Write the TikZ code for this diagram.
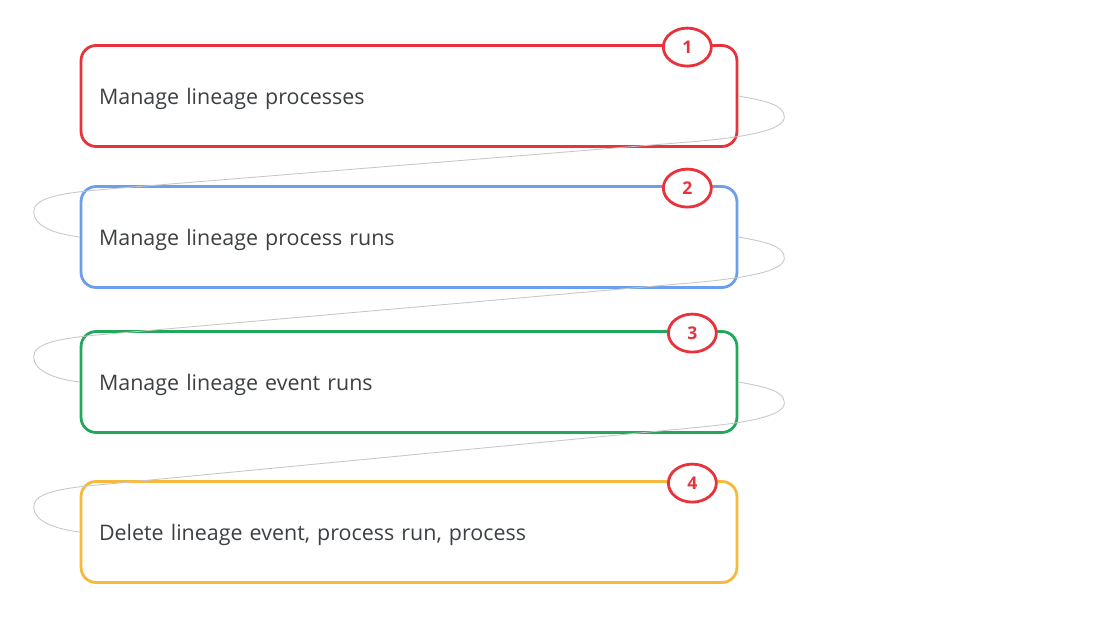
\documentclass[tikz,border=0pt]{standalone}
\usepackage{fontspec}
\setsansfont{Open Sans}
\usetikzlibrary{calc,shapes.geometric}
\definecolor{gred}{HTML}{E8333D}
\definecolor{gblue}{HTML}{6D9EEB}
\definecolor{ggreen}{HTML}{22A85A}
\definecolor{gyellow}{HTML}{F7B93C}
\definecolor{textgray}{HTML}{3C4043}
\tikzstyle{stage} = [draw, line width=1.6pt, rounded corners=0.3cm, fill=white, minimum height=2.02cm, text width=12.4cm, text height=0.44cm, text depth=0.1cm, align=left, inner xsep=0.36cm, font=\sffamily\fontsize{12.2}{14}\selectfont, text=textgray]
\tikzstyle{badge} = [ellipse, draw=gred, line width=1.6pt, fill=white, minimum width=0.96cm, minimum height=0.76cm, inner sep=0pt, text=gred, font=\sffamily\bfseries\fontsize{10}{12}\selectfont]
\tikzstyle{link} = [draw=black!22, line width=0.5pt]

\begin{document}
\begin{tikzpicture}[x=0.02cm,y=-0.02cm]
\useasboundingbox (0,0) rectangle (1093,625);

\foreach \c/\y/\t [count=\n] in
{gred/96/Manage lineage processes,gblue/237/Manage lineage process runs,ggreen/382/Manage lineage event runs,{gyellow/532/Delete lineage event, process run, process}}
\node[stage,draw=\c] (s\n) at (409,\y) {\t};

\foreach \d [count=\n] in {-51,-51,-46,-46}
\node[badge] (b\n) at ($(s\n.north east)+(\d,3)$) {\n};

\foreach \a/\b in {s1/s2,s2/s3,s3/s4}
\draw[link] (\a.east) .. controls +(28,5) and +(0,-12) .. ($(\a.east)+(46,21)$)
  .. controls +(0,14) and +(40,-4) .. ($(\a.east)+(-37,45)$) -- ($(\b.west)+(29,-48)$)
  .. controls +(-50,4) and +(0,-14) .. ($(\b.west)+(-46,-25)$)
  .. controls +(0,14) and +(-25,-3) .. (\b.west);

\end{tikzpicture}
\end{document}
